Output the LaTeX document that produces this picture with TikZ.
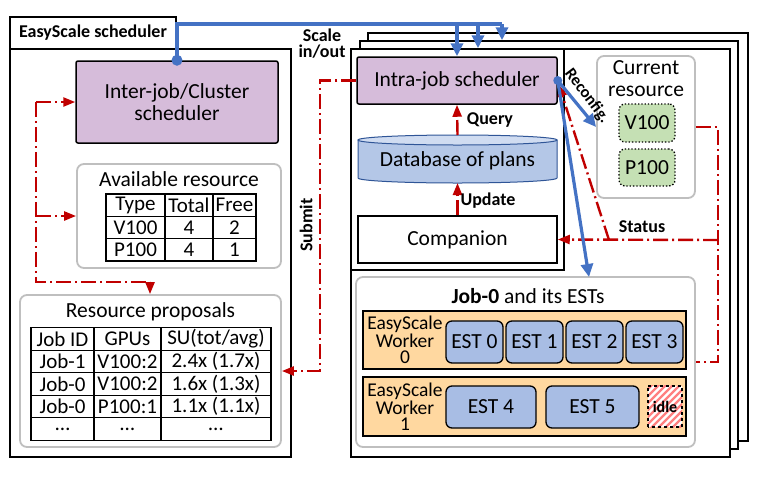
\documentclass[tikz,border=0pt]{standalone}
\usepackage{fontspec}
\setmainfont{Carlito}
\usetikzlibrary{arrows.meta,matrix,calc}

\definecolor{interfill}{RGB}{214,188,218}
\definecolor{estfill}{RGB}{168,189,228}
\definecolor{dbfill}{RGB}{180,199,231}
\definecolor{dbtop}{RGB}{208,220,241}
\definecolor{dbline}{RGB}{47,85,151}
\definecolor{resfill}{RGB}{197,224,180}
\definecolor{workfill}{RGB}{255,216,160}
\definecolor{ctrlred}{RGB}{192,0,0}
\definecolor{ctrlblue}{RGB}{68,114,196}
\definecolor{boxgray}{RGB}{191,191,191}
\definecolor{idlered}{RGB}{255,128,128}

\newcommand\fmain{\fontsize{21.5}{22}\selectfont}
\newcommand\ftab{\fontsize{21}{21}\selectfont}
\newcommand\flab{\fontsize{18}{16}\selectfont\bfseries}

\begin{document}
\begin{tikzpicture}[x=1pt,y=-1pt,
  frame/.style={draw,line width=1.5,fill=white},
  grayframe/.style={draw=boxgray,line width=1.8,rounded corners=7,fill=white},
  sched/.style={draw,line width=1.5,fill=interfill,rounded corners=2,align=center,inner sep=1,font=\fmain},
  plainbox/.style={draw,line width=1.5,fill=white,inner sep=1,font=\fmain},
  est/.style={draw,line width=1.3,fill=estfill,rounded corners=6,inner sep=1,font=\fmain},
  worker/.style={draw,line width=1.5,fill=workfill,inner sep=0},
  gpu/.style={draw,line width=1.3,dotted,fill=resfill,rounded corners=6,inner sep=1,font=\fmain},
  lab/.style={font=\flab,inner sep=0},
  redline/.style={draw=ctrlred,line width=2.4,dash pattern=on 15 off 4 on 2 off 4},
  redtip/.style={-{Triangle[length=12,width=9]}},
  blueline/.style={draw=ctrlblue,line width=3.6},
  bluetip/.style={-{Triangle[length=13,width=12]}},
  restab/.style={matrix of nodes,nodes in empty cells,row sep=-1.3,column sep=-1.3,
    nodes={draw,line width=1.3,inner sep=0,font=\ftab,anchor=center}}
]
\useasboundingbox (0,0) rectangle (758,483);

% EasyScale scheduler
\node[frame,minimum width=166,minimum height=32,inner sep=0,font=\fontsize{18}{18}\selectfont\bfseries] (tab) at (93,33) {EasyScale scheduler};
\node[frame,minimum width=281,minimum height=408] (left) at (150.5,253) {};
\node[sched,minimum width=202,minimum height=82] (interjob) at (177,102) {Inter-job/Cluster\\scheduler};

\node[grayframe,minimum width=204,minimum height=104] (availres) at (179,216) {};
\node[font=\fmain] at (179,179) {Available resource};
\matrix (avail) [restab,row 1/.style={nodes={minimum height=22.3}},
  row 2/.style={nodes={minimum height=22.3}},row 3/.style={nodes={minimum height=22.3}},
  column 1/.style={nodes={minimum width=59}},column 2/.style={nodes={minimum width=48}},
  column 3/.style={nodes={minimum width=43}}] at (181,227.5) {
  Type & Total & Free \\
  V100 & 4 & 2 \\
  P100 & 4 & 1 \\
};

\node[grayframe,minimum width=261,minimum height=152] (propbox) at (150.5,371) {};
\node[font=\fmain] at (150.5,312) {Resource proposals};
\matrix (props) [restab,nodes={minimum height=22.5},
  column 1/.style={nodes={minimum width=63}},column 2/.style={nodes={minimum width=67}},
  column 3/.style={nodes={minimum width=110}}] at (151,384) {
  Job ID & GPUs & SU(tot/avg) \\
  Job-1 & V100:2 & 2.4x (1.7x) \\
  Job-0 & V100:2 & 1.6x (1.3x) \\
  Job-0 & P100:1 & 1.1x (1.1x) \\
  \dots & \dots & \dots \\
};

% job frames
\node[frame,minimum width=380,minimum height=408] (f3) at (558,237) {};
\node[frame,minimum width=378,minimum height=408] (f2) at (549,245) {};
\node[frame,minimum width=379,minimum height=408] (f1) at (540.5,253) {};
\draw[line width=1.5] (f1.north west) rectangle (564,270);

\node[sched,minimum width=200,minimum height=47] (intra) at (457,80.5) {Intra-job scheduler};
\filldraw[line width=1,draw=dbline,fill=dbfill] (358,140) -- (358,178)
  arc[start angle=180,end angle=0,x radius=99.5,y radius=5] -- (557,140) -- cycle;
\filldraw[line width=1,draw=dbline,fill=dbtop] (457.5,140) ellipse[x radius=99.5,y radius=5];
\node[minimum width=199,minimum height=48,inner sep=0,font=\fmain] (db) at (457.5,161) {Database of plans};
\node[plainbox,minimum width=199,minimum height=47] (comp) at (457.5,239.5) {Companion};

\node[grayframe,minimum width=98,minimum height=142] (curres) at (646,127) {};
\node[font=\fmain,align=center] at (646,79) {Current\\resource};
\node[gpu,minimum width=56,minimum height=38] (v100) at (647,123) {V100};
\node[gpu,minimum width=56,minimum height=37] (p100) at (647,167.5) {P100};

\node[grayframe,minimum width=339,minimum height=170] (job0) at (525.5,362) {};
\node[font=\fmain] at (528,296) {\textbf{Job-0} and its ESTs};
\node[worker,minimum width=323,minimum height=58] (w0) at (524.5,340) {};
\node[worker,minimum width=323,minimum height=59] (w1) at (524.5,406.5) {};
\node[align=center,inner sep=0,font=\fontsize{19.5}{16}\selectfont] at (405,340) {EasyScale\\Worker\\0};
\node[align=center,inner sep=0,font=\fontsize{19.5}{16}\selectfont] at (405,406.5) {EasyScale\\Worker\\1};
\foreach \i/\x in {0/474.5,1/534.5,2/594.5,3/654.5}
  \node[est,minimum width=57,minimum height=42] (est\i) at (\x,342) {EST \i};
\node[est,minimum width=90,minimum height=42] (est4) at (491,407) {EST 4};
\node[est,minimum width=93,minimum height=42] (est5) at (592.5,407) {EST 5};
\node[minimum width=34,minimum height=41,inner sep=0] (idle) at (665,406.5) {};
\begin{scope}
  \clip (idle.south west) rectangle (idle.north east);
  \fill[white] (idle.south west) rectangle (idle.north east);
  \foreach \k in {-48,-41,...,40}
    \draw[idlered,line width=2.2] (648+\k,430) -- ++(48,-48);
\end{scope}
\draw[line width=1.5,dashed] (idle.south west) rectangle (idle.north east);
\node[font=\fontsize{16}{16}\selectfont\bfseries,inner sep=0] at (idle) {idle};

% control flow
\coordinate (lc1) at (36,102);
\coordinate (lc2) at (36,282);
\coordinate (lc3) at (150,282);
\draw[redline,redtip] (lc1) -- (interjob.west);
\draw[redline] (lc1) -- (lc2) -- (lc3);
\draw[redline,redtip] (lc3) -- (lc3 |- propbox.north);
\draw[redline,redtip] (36,216) -- (availres.west);

\coordinate (sub) at (320,371);
\draw[redline,redtip] (intra.west) -| (sub) -- (propbox.east);
\node[lab,rotate=90] at (306,225) {Submit};

\draw[redline,redtip] (db.north |- 0,135) -- (intra.south);
\draw[redline,redtip] (comp.north) -- (db.north |- 0,183);
\node[lab] at (490,120) {Query};
\node[lab] at (488,201) {Update};

\coordinate (r1) at (718,127);
\coordinate (r2) at (718,362);
\coordinate (r3) at (718,240);
\coordinate (st) at (609,240);
\draw[redline] (curres.east) -- (r1) -- (r2) -- (job0.east);
\draw[redline,redtip] (r3) -- (comp.east);
\draw[redline,redtip] (st) -- ($(intra.east)+(1,4)$);
\node[lab] at (642,227) {Status};

% scale in/out
\coordinate (sc) at (502,24);
\draw[blueline] (interjob.north) |- (sc);
\fill[ctrlblue] (interjob.north) circle (5.5);
\draw[blueline,bluetip] (intra.north |- sc) -- (intra.north);
\draw[blueline,bluetip] (478,24) -- (478,24 |- f1.north);
\draw[blueline,bluetip] (sc) -- (sc |- f2.north);
\node[lab,align=center] at (322,44) {Scale\\in/out};

\coordinate (jin) at (589,277);
\draw[blueline,line width=3.2,bluetip] (intra.east) -- (curres.west);
\draw[blueline,line width=3.2,bluetip] (intra.east) -- (jin);
\fill[ctrlblue] (intra.east) circle (4.5);
\node[lab,rotate=-53,font=\fontsize{16.5}{16}\selectfont\bfseries] at (587,96) {Reconfig.};
\end{tikzpicture}
\end{document}
